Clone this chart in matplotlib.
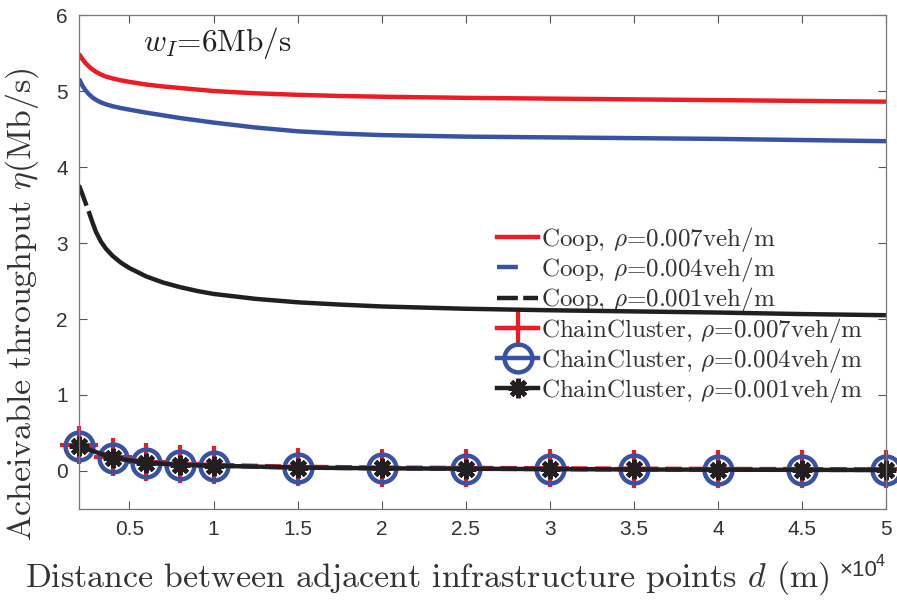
import matplotlib
matplotlib.use('Agg')
import matplotlib.pyplot as plt
from matplotlib.lines import Line2D

plt.rcParams['font.family'] = 'Liberation Sans'
plt.rcParams['mathtext.fontset'] = 'cm'
plt.rcParams['axes.unicode_minus'] = False

# Coop curves (d in metres)
d_coop = [2000, 2200, 2400, 2600, 2800, 3000, 3300, 3600, 4000, 4500, 5000,
          6000, 7000, 8000, 9000, 10000, 12500, 15000, 17500, 20000, 25000,
          30000, 35000, 40000, 45000, 50000]
coop_007 = [5.49, 5.42, 5.365, 5.32, 5.283, 5.253, 5.218, 5.19, 5.165, 5.14, 5.12,
            5.085, 5.06, 5.04, 5.02, 5.00, 4.97, 4.95, 4.935, 4.925, 4.91,
            4.90, 4.89, 4.88, 4.87, 4.86]
coop_004 = [5.16, 5.07, 5.005, 4.955, 4.915, 4.885, 4.85, 4.825, 4.80, 4.775, 4.755,
            4.715, 4.68, 4.645, 4.615, 4.585, 4.52, 4.47, 4.44, 4.42, 4.40,
            4.39, 4.38, 4.37, 4.355, 4.34]
coop_001 = [3.76, 3.64, 3.52, 3.40, 3.27, 3.15, 3.02, 2.925, 2.83, 2.74, 2.67,
            2.56, 2.48, 2.42, 2.37, 2.33, 2.265, 2.22, 2.19, 2.165, 2.135,
            2.115, 2.10, 2.085, 2.065, 2.05]

# ChainCluster points
d_cc = [2000, 4000, 6000, 8000, 10000, 15000, 20000, 25000, 30000, 35000,
        40000, 45000, 50000]
cc_007 = [0.34, 0.18, 0.12, 0.09, 0.08, 0.055, 0.045, 0.04, 0.035, 0.03, 0.027, 0.024, 0.02]
cc_004 = [0.33, 0.17, 0.11, 0.08, 0.07, 0.045, 0.035, 0.03, 0.025, 0.02, 0.017, 0.015, 0.013]
cc_001 = [0.33, 0.17, 0.11, 0.08, 0.07, 0.045, 0.035, 0.03, 0.025, 0.02, 0.017, 0.015, 0.013]

xticks = [5000, 10000, 15000, 20000, 25000, 30000, 35000, 40000, 45000, 50000]
xtick_labels = ['0.5', '1', '1.5', '2', '2.5', '3', '3.5', '4', '4.5', '5']
yticks = [0, 1, 2, 3, 4, 5, 6]

red = '#ed1c24'
blue = '#3953a4'
black = '#231f20'
grey_txt = '#333333'
lw = 3.2
cm = 'cmr10'

fig = plt.figure(figsize=(8.97, 6.01), dpi=100)
ax = fig.add_axes([0.0881, 0.1531, 0.8996, 0.8219])

ax.plot(d_coop, coop_007, color=red, lw=lw, solid_capstyle='butt',
        solid_joinstyle='round')
ax.plot(d_coop, coop_004, color=blue, lw=lw, solid_capstyle='butt',
        solid_joinstyle='round')
ax.plot(d_coop, coop_001, color=black, lw=lw, linestyle=(0, (4.9, 1.3, 600, 1)),
        dash_joinstyle='round')

ax.plot(d_cc, cc_007, color=red, lw=lw, linestyle='--', marker='+', ms=28, mew=3,
        clip_on=False)
ax.plot(d_cc, cc_004, color=blue, lw=lw, linestyle='--', marker='o', ms=20, mew=3.2,
        mfc='none', clip_on=False)
ax.plot(d_cc, cc_001, color=black, lw=lw, marker=(8, 2, 0), ms=14, mew=3.4,
        clip_on=False)

ax.set_xlim(2000, 50000)
ax.set_ylim(-0.5, 6)
ax.set_xticks(xticks)
ax.set_xticklabels(xtick_labels)
ax.set_yticks(yticks)
ax.tick_params(direction='in', length=6, width=0.8, top=True, right=True,
               labelsize=15, colors='#555555', labelcolor=grey_txt, pad=8)
for sp in ax.spines.values():
    sp.set_color('#777777')
    sp.set_linewidth(0.9)

ax.set_xlabel(r'Distance between adjacent infrastructure points $d$ (m)',
              fontsize=24.4, family=cm, color=grey_txt)
ax.xaxis.set_label_coords(0.432, -0.102)
ax.set_ylabel(r'Acheivable throughput $\eta$(Mb/s)',
              fontsize=24.4, family=cm, color=grey_txt)
ax.yaxis.set_label_coords(-0.047, 0.415)

fig.text(839 / 897, 1 - 571 / 601, '×10', fontsize=16, color=grey_txt,
         ha='left', va='center')
fig.text(876 / 897, 1 - 561 / 601, '4', fontsize=11.5, color=grey_txt,
         ha='left', va='center')

ax.text(5800, 5.63, r'$w_I$=6Mb/s', fontsize=22.5, family=cm, color=black,
        va='center')

handles = [
    Line2D([], [], color=red, lw=lw),
    Line2D([], [], color=blue, lw=lw, linestyle=(0, (4.7, 10))),
    Line2D([], [], color=black, lw=lw, linestyle=(0, (4.7, 1.2, 4.7, 1.2))),
    Line2D([], [], color=red, lw=lw, marker='+', ms=28, mew=3),
    Line2D([], [], color=blue, lw=lw, marker='o', ms=20, mew=3.2, mfc='none'),
    Line2D([], [], color=black, lw=lw, marker=(8, 2, 0), ms=14, mew=3.4),
]
labels = [
    r'Coop, $\rho$=0.007veh/m',
    r'Coop, $\rho$=0.004veh/m',
    r'Coop, $\rho$=0.001veh/m',
    r'ChainCluster, $\rho$=0.007veh/m',
    r'ChainCluster, $\rho$=0.004veh/m',
    r'ChainCluster, $\rho$=0.001veh/m',
]
leg = ax.legend(handles, labels, loc='center left',
                bbox_to_anchor=((497 - 79) / 807, (509 - 315) / 494),
                frameon=False, handlelength=1.65, handletextpad=0.1,
                labelspacing=0.05, borderpad=0, borderaxespad=0,
                prop={'family': cm, 'size': 18})
for t in leg.get_texts():
    t.set_color(grey_txt)
leg.set_zorder(1)

plt.savefig('out.png', dpi=100)
